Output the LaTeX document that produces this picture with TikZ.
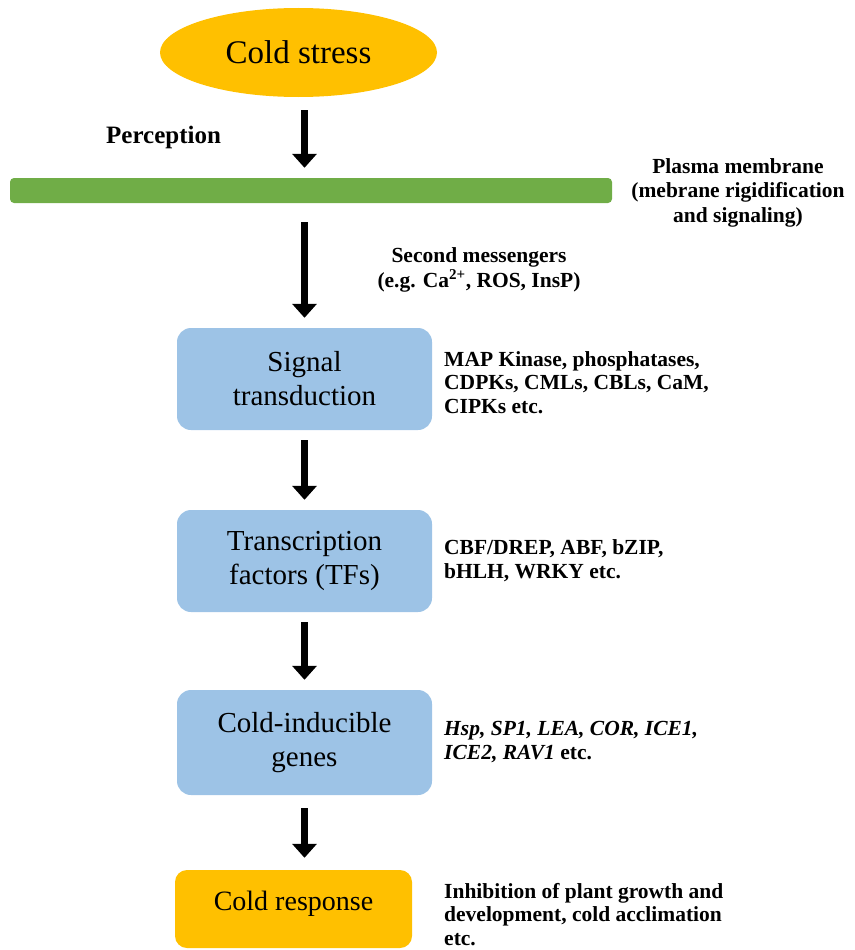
\documentclass[tikz,border=0pt]{standalone}
\usepackage{fontspec}
\setmainfont{Liberation Serif}
\usetikzlibrary{arrows.meta,shapes.geometric}
\definecolor{gold}{HTML}{FFC000}
\definecolor{lblue}{HTML}{9DC3E6}
\definecolor{memgreen}{HTML}{70AD47}
\begin{document}
\begin{tikzpicture}[x=1pt,y=-1pt,
  box/.style={rounded corners=14pt, fill=lblue, minimum width=255pt, minimum height=102pt,
    align=center, font=\fontsize{29}{34}\selectfont, inner sep=0pt},
  note/.style={anchor=base west, align=left, font=\bfseries\fontsize{21.5}{23.5}\selectfont, inner sep=0pt},
  cnote/.style={anchor=base, align=center, font=\bfseries\fontsize{21.5}{24.5}\selectfont, inner sep=0pt},
  arr/.style={line width=7.5pt, -{Triangle[width=24pt,length=14pt]}}]
\useasboundingbox (0,0) rectangle (854,950);
\clip (0,0) rectangle (854,950);
% nodes
\node[ellipse, fill=gold, minimum width=277pt, minimum height=89pt, inner sep=0pt,
  font=\fontsize{33}{36}\selectfont] (cs) at (298.5,52.5) {Cold stress};
\node[rectangle, rounded corners=4pt, fill=memgreen, minimum width=602pt, minimum height=25pt,
  inner sep=0pt] (bar) at (311,190.5) {};
\node[box] (sig) at (304.5,379) {Signal\\transduction};
\node[box] (tf) at (304.5,561) {Transcription\\factors (TFs)};
\node[box, minimum height=105pt] (cig) at (304.5,742.5) {Cold-inducible\\genes};
\node[box, fill=gold, minimum width=237pt, minimum height=78pt, rounded corners=12pt,
  font=\fontsize{28}{32}\selectfont] (cr) at (293.5,909) {\raisebox{16pt}{Cold response}};
% labels
\node[anchor=base west, inner sep=0pt, font=\bfseries\fontsize{25}{28}\selectfont] (perc) at (106,143) {Perception};
\node[cnote] (pm) at (738,222) {Plasma membrane\\(mebrane rigidification\\and signaling)};
\node[cnote] (sm) at (479,287) {Second messengers\\(e.g. Ca\textsuperscript{2+}, ROS, InsP)};
\node[note] (sigt) at (444,413) {MAP Kinase, phosphatases,\\CDPKs, CMLs, CBLs, CaM,\\CIPKs etc.};
\node[note] (tft) at (444,578) {CBF/DREP, ABF, bZIP,\\bHLH, WRKY etc.};
\node[note] (cigt) at (444,759) {\itshape Hsp, SP1, LEA, COR, ICE1,\\\itshape ICE2, RAV1\upshape{} etc.};
\node[note] (crt) at (444,945) {Inhibition of plant growth and\\development, cold acclimation\\etc.};
% arrows
\draw[arr, shorten <=13pt, shorten >=10pt] (cs.south -| sig.center) -- (bar.north -| sig.center);
\draw[arr, shorten <=19pt, shorten >=10pt] (bar.south -| sig.center) -- (sig.north);
\draw[arr, shorten <=10pt, shorten >=10pt] (sig.south) -- (tf.north);
\draw[arr, shorten <=10pt, shorten >=10pt] (tf.south) -- (cig.north);
\draw[arr, shorten <=13pt, shorten >=12pt] (cig.south) -- (cr.north -| cig.south);
\end{tikzpicture}
\end{document}
